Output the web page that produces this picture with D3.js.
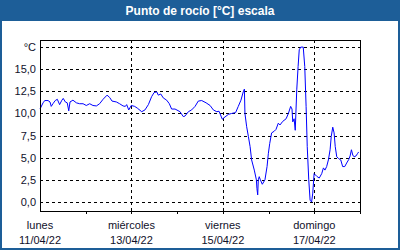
<!DOCTYPE html>
<html lang="es">
<head>
    <meta charset="UTF-8">
    <title>Punto de rocío</title>
    <script src="https://d3js.org/d3.v7.min.js"></script>
    <style>
        body { margin: 0; background: #fff; }
        svg text { font-family: Tahoma, "Liberation Sans", Arial, sans-serif; }
    </style>
</head>
<body>
<div id="chart"></div>
<script>
    // hours since lunes 11/04/22 00:00, dew point in °C
    const hours = [0, 1.6, 2.5, 4.2, 5.25, 5.9, 6.8, 8.0, 9.1, 10.3, 11.5, 12.2, 13.3, 14.3, 15.1, 15.75, 17.3, 19.1, 20.8, 22.6,
        24.3, 26.1, 27.8, 29.6, 31.3, 33.1, 35.2, 36.6, 37.8, 40.1, 41.8, 43.6, 44.8, 45.5, 46.6, 47.9, 49.7, 51.1, 53.4, 55.1,
        56.9, 58.6, 59.9, 61.3, 62.1, 63.4, 64.7, 66.5, 67.9, 69.1, 70.9, 73.5, 75.2, 76.1, 77.9, 79.6, 81.4, 83.1, 84.9, 87.2,
        89.3, 91.0, 92.8, 94.0, 95.7, 97.1, 98.9, 100.6, 102.7, 104.1, 105.5, 106.7, 107.3, 107.6, 108.5, 109.4, 110.3, 111.1, 112.5, 113.6,
        113.9, 114.3, 114.6, 115.1, 115.7, 116.7, 118.1, 119.2, 119.9, 120.6, 121.6, 123.0, 123.9, 125.1, 126.0, 127.4, 129.2, 130.4, 131.6, 132.3,
        132.7, 133.4, 134.0, 134.8, 135.5, 136.1, 136.9, 138.2, 139.0, 139.7, 140.3, 141.1, 141.8, 142.6, 143.2, 143.9, 145.3, 146.6, 147.9, 148.8,
        149.6, 150.5, 151.4, 152.3, 152.9, 153.7, 154.4, 155.0, 155.8, 156.8, 157.9, 158.9, 160.0, 161.0, 162.1, 162.8, 163.5, 164.2, 164.9, 165.9,
        166.8, 167.3];
    const dewPoint = [10.5, 11.2, 11.46, 11.46, 11.3, 10.8, 11.1, 11.46, 11.6, 11.0, 11.5, 11.7, 11.3, 11.2, 10.3, 11.3, 11.5, 11.2, 11.1, 11.1,
        10.9, 11.1, 10.9, 10.85, 11.1, 11.6, 12.07, 11.8, 11.4, 11.3, 11.1, 10.85, 10.8, 11.0, 10.4, 10.9, 10.8, 10.6, 10.2, 10.4,
        11.0, 11.9, 12.36, 12.44, 12.07, 12.2, 11.76, 11.5, 11.1, 10.5, 10.5, 10.2, 9.65, 9.7, 10.2, 10.4, 10.8, 11.4, 11.46, 11.2,
        10.9, 10.4, 10.2, 10.25, 9.35, 9.6, 9.9, 10.0, 10.1, 10.8, 11.5, 12.44, 12.75, 10.0, 8.5, 7.4, 6.25, 4.75, 3.6, 2.5,
        1.5, 0.8, 2.5, 2.86, 2.5, 2.0, 2.5, 4.0, 5.5, 6.6, 7.8, 8.0, 8.2, 8.9, 8.7, 9.1, 9.4, 10.0, 10.8, 10.5,
        9.05, 9.4, 8.1, 12.67, 15.3, 17.2, 17.5, 17.5, 15.3, 10.8, 6.25, 2.5, 0.2, 0.0, 1.0, 3.2, 2.9, 2.7, 3.2, 3.85,
        3.6, 4.0, 4.75, 5.9, 7.4, 8.45, 7.8, 6.25, 5.1, 4.9, 4.75, 4.0, 4.0, 4.4, 4.8, 5.2, 5.9, 5.3, 5.1, 5.2,
        5.5, 5.65];

    const yTicks = [0, 2.5, 5, 7.5, 10, 12.5, 15, 17.5];
    const dayNames = ["lunes", "miércoles", "viernes", "domingo"];
    const dayDates = ["11/04/22", "13/04/22", "15/04/22", "17/04/22"];
    const dayOffsets = [0, 2, 4, 6];

    const width = 400, height = 250;
    const margin = {left: 40, right: 40, top: 40, bottom: 39};
    const start = new Date(2022, 3, 11);
    const end = new Date(2022, 3, 18);
    const addHours = h => new Date(start.getTime() + h * 3600 * 1000);

    const svg = d3.select("#chart").append("svg")
        .attr("width", width)
        .attr("height", height);

    // frame and title bar
    svg.append("rect")
        .attr("x", 1).attr("y", 1)
        .attr("width", width - 2).attr("height", height - 2)
        .attr("fill", "#ffffff")
        .attr("stroke", "#1d5e98")
        .attr("stroke-width", 2);
    svg.append("rect")
        .attr("x", 0).attr("y", 0)
        .attr("width", width).attr("height", 21)
        .attr("fill", "#1d5e98");
    svg.append("text")
        .attr("x", width / 2).attr("y", 15)
        .attr("text-anchor", "middle")
        .attr("fill", "#ffffff")
        .attr("font-size", 12)
        .attr("font-weight", "bold")
        .text("Punto de rocío [°C] escala");

    const x = d3.scaleTime()
        .domain([start, end])
        .range([margin.left, width - margin.right]);
    const y = d3.scaleLinear()
        .domain([-1.02, 18.3])
        .range([height - margin.bottom, margin.top]);

    const plotBottom = height - margin.bottom;
    const plotRight = width - margin.right;

    // horizontal grid
    svg.append("g")
        .selectAll("line")
        .data(yTicks)
        .enter().append("line")
        .attr("x1", margin.left).attr("x2", plotRight)
        .attr("y1", d => Math.round(y(d)) + 0.5)
        .attr("y2", d => Math.round(y(d)) + 0.5)
        .attr("stroke", "#000")
        .attr("stroke-dasharray", "3,3");

    // vertical grid on labelled days
    svg.append("g")
        .selectAll("line")
        .data(dayOffsets.filter(d => d > 0))
        .enter().append("line")
        .attr("x1", d => Math.round(x(d3.timeDay.offset(start, d))) + 0.5)
        .attr("x2", d => Math.round(x(d3.timeDay.offset(start, d))) + 0.5)
        .attr("y1", margin.top).attr("y2", plotBottom)
        .attr("stroke", "#000")
        .attr("stroke-dasharray", "3,3");

    // y labels
    const fmt = d3.format(".1f");
    svg.append("g")
        .selectAll("text")
        .data(yTicks)
        .enter().append("text")
        .attr("x", 36)
        .attr("y", d => Math.round(y(d)) + 4)
        .attr("text-anchor", "end")
        .attr("font-size", 11)
        .attr("fill", "#10102a")
        .text(d => d === 17.5 ? "°C" : fmt(d).replace(".", ","));

    // day ticks
    svg.append("g")
        .selectAll("line")
        .data(d3.range(1, 8))
        .enter().append("line")
        .attr("x1", d => Math.round(x(d3.timeDay.offset(start, d))) + 0.5)
        .attr("x2", d => Math.round(x(d3.timeDay.offset(start, d))) + 0.5)
        .attr("y1", plotBottom).attr("y2", plotBottom + 3)
        .attr("stroke", "#000");

    const labels = svg.append("g")
        .selectAll("g")
        .data(dayOffsets)
        .enter().append("g")
        .attr("transform", d => `translate(${x(d3.timeDay.offset(start, d))},0)`);
    labels.append("text")
        .attr("y", 229)
        .attr("text-anchor", "middle")
        .attr("font-size", 11)
        .attr("fill", "#10102a")
        .text((d, i) => dayNames[i]);
    labels.append("text")
        .attr("y", 244)
        .attr("text-anchor", "middle")
        .attr("font-size", 11)
        .attr("fill", "#10102a")
        .text((d, i) => dayDates[i]);

    // data line
    const points = hours.map((h, i) => ({t: addHours(h), v: dewPoint[i]}));
    const line = d3.line()
        .x(d => x(d.t))
        .y(d => y(d.v));
    svg.append("path")
        .datum(points)
        .attr("fill", "none")
        .attr("stroke", "#0000ff")
        .attr("stroke-width", 1)
        .attr("d", line);

    // plot frame
    svg.append("rect")
        .attr("x", margin.left + 0.5).attr("y", margin.top + 0.5)
        .attr("width", plotRight - margin.left).attr("height", plotBottom - margin.top)
        .attr("fill", "none")
        .attr("stroke", "#000");
</script>
</body>
</html>
